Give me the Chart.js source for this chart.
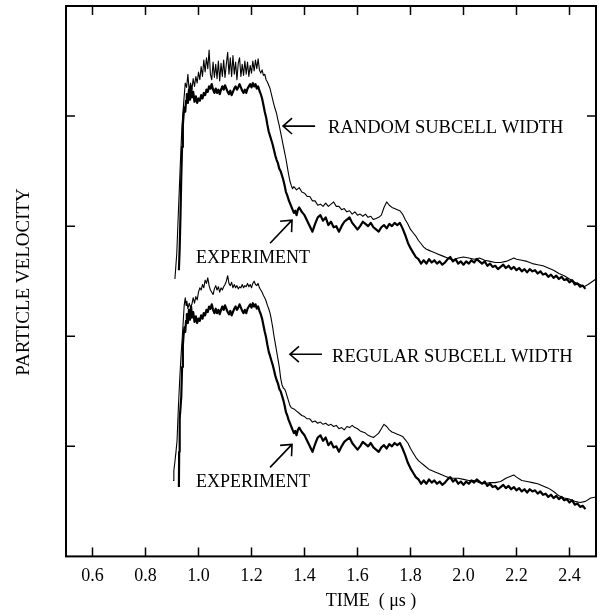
<!DOCTYPE html>
<html>
<head>
<meta charset="utf-8">
<script src="https://cdn.jsdelivr.net/npm/chart.js@4.4.1/dist/chart.umd.min.js"></script>
<style>
  html, body { margin: 0; padding: 0; background: #fff; }
  canvas { display: block; }
</style>
</head>
<body>
<canvas id="chart" width="600" height="616"></canvas>
<script>
// Axis ticks (labels only on the time axis)
const timeTicks = [0.6, 0.8, 1.0, 1.2, 1.4, 1.6, 1.8, 2.0, 2.2, 2.4];
const velocityTicks = [1, 2, 3, 4];

// [time (us), particle velocity (arbitrary, offset per panel)]
const experimentTop = [
  [0.926, 2.60], [0.929, 2.80], [0.932, 3.10], [0.935, 3.45], [0.938, 3.72], [0.941, 3.92],
  [0.944, 4.02], [0.947, 4.08], [0.950, 4.04], [0.953, 4.14], [0.956, 4.20], [0.960, 4.12],
  [0.964, 4.24], [0.968, 4.15], [0.972, 4.27], [0.976, 4.17], [0.980, 4.22], [0.985, 4.13],
  [0.990, 4.18], [0.995, 4.12], [1.000, 4.16], [1.005, 4.14], [1.010, 4.19], [1.015, 4.16],
  [1.020, 4.21], [1.025, 4.19], [1.030, 4.24], [1.035, 4.22], [1.040, 4.27], [1.045, 4.25],
  [1.050, 4.29], [1.055, 4.24], [1.060, 4.21], [1.065, 4.25], [1.070, 4.21], [1.075, 4.24],
  [1.080, 4.20], [1.085, 4.24], [1.090, 4.27], [1.095, 4.24], [1.100, 4.28], [1.105, 4.25],
  [1.110, 4.22], [1.115, 4.20], [1.120, 4.23], [1.125, 4.19], [1.130, 4.22], [1.135, 4.25],
  [1.140, 4.27], [1.145, 4.24], [1.150, 4.26], [1.155, 4.29], [1.160, 4.26], [1.165, 4.23],
  [1.170, 4.21], [1.175, 4.24], [1.180, 4.21], [1.185, 4.25], [1.190, 4.27], [1.195, 4.29],
  [1.200, 4.26], [1.205, 4.30], [1.210, 4.27], [1.215, 4.29], [1.220, 4.25], [1.225, 4.27],
  [1.230, 4.23], [1.235, 4.20], [1.240, 4.16], [1.245, 4.10], [1.250, 4.04], [1.255, 3.99],
  [1.260, 3.92], [1.265, 3.86], [1.270, 3.82], [1.275, 3.78], [1.280, 3.74], [1.285, 3.69],
  [1.290, 3.64], [1.295, 3.60], [1.300, 3.57], [1.305, 3.52], [1.310, 3.50], [1.315, 3.46],
  [1.320, 3.42], [1.325, 3.37], [1.330, 3.31], [1.335, 3.28], [1.340, 3.24], [1.345, 3.21],
  [1.350, 3.18], [1.355, 3.15], [1.360, 3.12], [1.365, 3.14], [1.370, 3.10], [1.375, 3.15],
  [1.380, 3.17], [1.390, 3.13], [1.400, 3.10], [1.410, 3.05], [1.420, 3.00], [1.430, 2.95],
  [1.440, 3.02], [1.450, 3.08], [1.460, 3.10], [1.470, 3.05], [1.480, 3.08], [1.490, 3.01],
  [1.500, 3.04], [1.510, 2.99], [1.520, 3.00], [1.530, 2.95], [1.540, 3.00], [1.550, 3.04],
  [1.560, 3.06], [1.570, 3.08], [1.580, 3.03], [1.590, 3.00], [1.600, 2.97], [1.610, 3.00],
  [1.620, 3.04], [1.630, 3.02], [1.640, 3.00], [1.650, 3.03], [1.660, 2.99], [1.670, 2.97],
  [1.680, 2.95], [1.690, 2.99], [1.700, 3.01], [1.710, 2.98], [1.720, 3.02], [1.730, 3.00],
  [1.740, 3.03], [1.750, 3.01], [1.760, 3.03], [1.770, 2.98], [1.780, 2.92], [1.790, 2.85],
  [1.800, 2.80], [1.810, 2.76], [1.820, 2.72], [1.830, 2.70], [1.840, 2.66], [1.850, 2.69],
  [1.860, 2.66], [1.870, 2.70], [1.880, 2.67], [1.890, 2.69], [1.900, 2.66], [1.910, 2.68],
  [1.920, 2.65], [1.930, 2.67], [1.940, 2.70], [1.950, 2.72], [1.960, 2.68], [1.970, 2.70],
  [1.980, 2.66], [1.990, 2.68], [2.000, 2.65], [2.010, 2.68], [2.020, 2.66], [2.030, 2.69],
  [2.040, 2.67], [2.050, 2.70], [2.060, 2.68], [2.070, 2.66], [2.080, 2.68], [2.090, 2.64],
  [2.100, 2.66], [2.110, 2.63], [2.120, 2.64], [2.130, 2.61], [2.140, 2.63], [2.150, 2.65],
  [2.160, 2.62], [2.170, 2.64], [2.180, 2.61], [2.190, 2.63], [2.200, 2.60], [2.210, 2.62],
  [2.220, 2.59], [2.230, 2.61], [2.240, 2.58], [2.250, 2.61], [2.260, 2.59], [2.270, 2.60],
  [2.280, 2.57], [2.290, 2.59], [2.300, 2.56], [2.310, 2.57], [2.320, 2.54], [2.330, 2.56],
  [2.340, 2.53], [2.350, 2.55], [2.360, 2.52], [2.370, 2.54], [2.380, 2.51], [2.390, 2.52],
  [2.400, 2.49], [2.410, 2.51], [2.420, 2.47], [2.430, 2.48], [2.440, 2.45], [2.450, 2.46],
  [2.460, 2.43]
];

const randomSubcell = [
  [0.911, 2.52], [0.914, 2.62], [0.918, 2.75], [0.922, 3.00], [0.927, 3.30], [0.932, 3.60],
  [0.937, 3.88], [0.941, 4.02], [0.945, 4.15], [0.950, 4.30], [0.955, 4.26], [0.960, 4.38],
  [0.965, 4.22], [0.970, 4.30], [0.975, 4.24], [0.980, 4.34], [0.985, 4.27], [0.990, 4.36],
  [0.995, 4.30], [1.000, 4.40], [1.005, 4.33], [1.010, 4.45], [1.015, 4.36], [1.020, 4.51],
  [1.025, 4.40], [1.030, 4.53], [1.035, 4.43], [1.040, 4.60], [1.045, 4.38], [1.050, 4.33],
  [1.055, 4.49], [1.060, 4.35], [1.065, 4.47], [1.070, 4.34], [1.075, 4.50], [1.080, 4.32],
  [1.085, 4.48], [1.090, 4.36], [1.095, 4.51], [1.100, 4.35], [1.105, 4.47], [1.110, 4.58],
  [1.115, 4.38], [1.120, 4.53], [1.125, 4.36], [1.130, 4.55], [1.135, 4.38], [1.140, 4.49],
  [1.145, 4.33], [1.150, 4.48], [1.155, 4.53], [1.160, 4.36], [1.165, 4.47], [1.170, 4.37],
  [1.175, 4.50], [1.180, 4.38], [1.185, 4.49], [1.190, 4.36], [1.195, 4.46], [1.200, 4.39],
  [1.205, 4.50], [1.210, 4.41], [1.215, 4.51], [1.220, 4.43], [1.225, 4.52], [1.230, 4.42],
  [1.235, 4.39], [1.240, 4.42], [1.245, 4.37], [1.250, 4.38], [1.255, 4.33], [1.260, 4.31],
  [1.265, 4.28], [1.270, 4.25], [1.275, 4.20], [1.280, 4.15], [1.285, 4.10], [1.290, 4.06],
  [1.295, 4.02], [1.300, 3.96], [1.305, 3.91], [1.310, 3.85], [1.315, 3.79], [1.320, 3.73],
  [1.325, 3.67], [1.330, 3.61], [1.335, 3.54], [1.340, 3.47], [1.345, 3.41], [1.350, 3.37],
  [1.355, 3.34], [1.360, 3.36], [1.370, 3.33], [1.380, 3.35], [1.390, 3.31], [1.400, 3.30],
  [1.410, 3.27], [1.420, 3.27], [1.430, 3.23], [1.440, 3.23], [1.450, 3.19], [1.460, 3.20],
  [1.470, 3.18], [1.480, 3.21], [1.490, 3.18], [1.500, 3.20], [1.510, 3.22], [1.520, 3.18],
  [1.530, 3.18], [1.540, 3.15], [1.550, 3.16], [1.560, 3.13], [1.570, 3.14], [1.580, 3.11],
  [1.590, 3.13], [1.600, 3.10], [1.610, 3.11], [1.620, 3.09], [1.630, 3.11], [1.640, 3.08],
  [1.650, 3.09], [1.660, 3.06], [1.670, 3.07], [1.680, 3.08], [1.690, 3.10], [1.700, 3.17],
  [1.710, 3.22], [1.720, 3.19], [1.730, 3.17], [1.740, 3.16], [1.750, 3.15], [1.760, 3.14],
  [1.770, 3.11], [1.780, 3.06], [1.790, 3.02], [1.800, 2.97], [1.810, 2.94], [1.820, 2.91],
  [1.830, 2.87], [1.840, 2.84], [1.850, 2.81], [1.860, 2.79], [1.870, 2.78], [1.880, 2.77],
  [1.890, 2.76], [1.900, 2.75], [1.920, 2.73], [1.940, 2.71], [1.960, 2.69], [1.980, 2.71],
  [2.000, 2.72], [2.020, 2.71], [2.040, 2.70], [2.060, 2.71], [2.080, 2.69], [2.100, 2.68],
  [2.120, 2.67], [2.140, 2.67], [2.160, 2.68], [2.180, 2.70], [2.190, 2.71], [2.200, 2.70],
  [2.220, 2.69], [2.240, 2.68], [2.260, 2.66], [2.280, 2.65], [2.300, 2.64], [2.320, 2.62],
  [2.340, 2.60], [2.360, 2.57], [2.380, 2.55], [2.400, 2.52], [2.420, 2.49], [2.440, 2.47],
  [2.455, 2.45], [2.470, 2.47], [2.500, 2.52]
];

const experimentBottom = [
  [0.926, 0.63], [0.927, 0.95], [0.929, 1.25], [0.932, 1.35], [0.935, 1.45], [0.938, 1.72],
  [0.941, 1.92], [0.944, 2.02], [0.947, 2.08], [0.950, 2.04], [0.953, 2.14], [0.956, 2.20],
  [0.960, 2.12], [0.964, 2.24], [0.968, 2.15], [0.972, 2.27], [0.976, 2.17], [0.980, 2.22],
  [0.985, 2.13], [0.990, 2.18], [0.995, 2.12], [1.000, 2.16], [1.005, 2.14], [1.010, 2.19],
  [1.015, 2.16], [1.020, 2.21], [1.025, 2.19], [1.030, 2.24], [1.035, 2.22], [1.040, 2.27],
  [1.045, 2.25], [1.050, 2.29], [1.055, 2.24], [1.060, 2.21], [1.065, 2.25], [1.070, 2.21],
  [1.075, 2.24], [1.080, 2.20], [1.085, 2.24], [1.090, 2.27], [1.095, 2.24], [1.100, 2.28],
  [1.105, 2.25], [1.110, 2.22], [1.115, 2.20], [1.120, 2.23], [1.125, 2.19], [1.130, 2.22],
  [1.135, 2.25], [1.140, 2.27], [1.145, 2.24], [1.150, 2.26], [1.155, 2.29], [1.160, 2.26],
  [1.165, 2.23], [1.170, 2.21], [1.175, 2.24], [1.180, 2.21], [1.185, 2.25], [1.190, 2.27],
  [1.195, 2.29], [1.200, 2.26], [1.205, 2.30], [1.210, 2.27], [1.215, 2.29], [1.220, 2.25],
  [1.225, 2.27], [1.230, 2.23], [1.235, 2.20], [1.240, 2.16], [1.245, 2.10], [1.250, 2.04],
  [1.255, 1.99], [1.260, 1.92], [1.265, 1.86], [1.270, 1.82], [1.275, 1.78], [1.280, 1.74],
  [1.285, 1.69], [1.290, 1.64], [1.295, 1.60], [1.300, 1.57], [1.305, 1.52], [1.310, 1.50],
  [1.315, 1.46], [1.320, 1.42], [1.325, 1.37], [1.330, 1.31], [1.335, 1.28], [1.340, 1.24],
  [1.345, 1.21], [1.350, 1.18], [1.355, 1.15], [1.360, 1.12], [1.365, 1.14], [1.370, 1.10],
  [1.375, 1.15], [1.380, 1.17], [1.390, 1.13], [1.400, 1.10], [1.410, 1.05], [1.420, 1.00],
  [1.430, 0.95], [1.440, 1.02], [1.450, 1.08], [1.460, 1.10], [1.470, 1.05], [1.480, 1.08],
  [1.490, 1.01], [1.500, 1.04], [1.510, 0.99], [1.520, 1.00], [1.530, 0.95], [1.540, 1.00],
  [1.550, 1.04], [1.560, 1.06], [1.570, 1.08], [1.580, 1.03], [1.590, 1.00], [1.600, 0.97],
  [1.610, 1.00], [1.620, 1.04], [1.630, 1.02], [1.640, 1.00], [1.650, 1.03], [1.660, 0.99],
  [1.670, 0.97], [1.680, 0.95], [1.690, 0.99], [1.700, 1.01], [1.710, 0.98], [1.720, 1.02],
  [1.730, 1.00], [1.740, 1.03], [1.750, 1.01], [1.760, 1.03], [1.770, 0.98], [1.780, 0.92],
  [1.790, 0.85], [1.800, 0.80], [1.810, 0.76], [1.820, 0.72], [1.830, 0.70], [1.840, 0.66],
  [1.850, 0.69], [1.860, 0.66], [1.870, 0.70], [1.880, 0.67], [1.890, 0.69], [1.900, 0.66],
  [1.910, 0.68], [1.920, 0.65], [1.930, 0.67], [1.940, 0.70], [1.950, 0.72], [1.960, 0.68],
  [1.970, 0.70], [1.980, 0.66], [1.990, 0.68], [2.000, 0.65], [2.010, 0.68], [2.020, 0.66],
  [2.030, 0.69], [2.040, 0.67], [2.050, 0.70], [2.060, 0.68], [2.070, 0.66], [2.080, 0.68],
  [2.090, 0.64], [2.100, 0.66], [2.110, 0.63], [2.120, 0.64], [2.130, 0.61], [2.140, 0.63],
  [2.150, 0.65], [2.160, 0.62], [2.170, 0.64], [2.180, 0.61], [2.190, 0.63], [2.200, 0.60],
  [2.210, 0.62], [2.220, 0.59], [2.230, 0.61], [2.240, 0.58], [2.250, 0.61], [2.260, 0.59],
  [2.270, 0.60], [2.280, 0.57], [2.290, 0.59], [2.300, 0.56], [2.310, 0.57], [2.320, 0.54],
  [2.330, 0.56], [2.340, 0.53], [2.350, 0.55], [2.360, 0.52], [2.370, 0.54], [2.380, 0.51],
  [2.390, 0.52], [2.400, 0.49], [2.410, 0.51], [2.420, 0.47], [2.430, 0.48], [2.440, 0.45],
  [2.450, 0.46], [2.460, 0.43]
];

const regularSubcell = [
  [0.904, 0.69], [0.907, 0.78], [0.911, 0.86], [0.915, 0.95], [0.919, 1.05], [0.924, 1.35],
  [0.929, 1.60], [0.934, 1.82], [0.938, 1.96], [0.942, 2.12], [0.946, 2.28], [0.950, 2.35],
  [0.953, 2.28], [0.956, 2.32], [0.960, 2.25], [0.965, 2.30], [0.970, 2.26], [0.975, 2.29],
  [0.980, 2.35], [0.985, 2.30], [0.990, 2.36], [0.995, 2.33], [1.000, 2.40], [1.005, 2.44],
  [1.010, 2.42], [1.015, 2.47], [1.020, 2.44], [1.025, 2.51], [1.030, 2.48], [1.035, 2.53],
  [1.040, 2.46], [1.045, 2.42], [1.050, 2.40], [1.055, 2.38], [1.060, 2.43], [1.065, 2.46],
  [1.070, 2.42], [1.075, 2.45], [1.080, 2.40], [1.085, 2.44], [1.090, 2.42], [1.095, 2.45],
  [1.100, 2.47], [1.105, 2.50], [1.110, 2.55], [1.115, 2.48], [1.120, 2.46], [1.125, 2.49],
  [1.130, 2.44], [1.135, 2.47], [1.140, 2.44], [1.145, 2.46], [1.150, 2.43], [1.155, 2.45],
  [1.160, 2.44], [1.165, 2.47], [1.170, 2.44], [1.175, 2.46], [1.180, 2.45], [1.185, 2.48],
  [1.190, 2.45], [1.195, 2.47], [1.200, 2.44], [1.205, 2.48], [1.210, 2.50], [1.215, 2.47],
  [1.220, 2.46], [1.225, 2.48], [1.230, 2.44], [1.235, 2.42], [1.240, 2.40], [1.245, 2.37],
  [1.250, 2.35], [1.255, 2.32], [1.260, 2.28], [1.265, 2.25], [1.270, 2.21], [1.275, 2.15],
  [1.280, 2.08], [1.285, 2.00], [1.290, 1.93], [1.295, 1.86], [1.300, 1.79], [1.305, 1.72],
  [1.310, 1.62], [1.315, 1.56], [1.320, 1.53], [1.325, 1.52], [1.330, 1.49], [1.335, 1.45],
  [1.340, 1.41], [1.345, 1.37], [1.350, 1.35], [1.360, 1.34], [1.370, 1.32], [1.380, 1.30],
  [1.390, 1.28], [1.400, 1.27], [1.410, 1.25], [1.420, 1.25], [1.430, 1.22], [1.440, 1.23],
  [1.450, 1.21], [1.460, 1.22], [1.470, 1.20], [1.480, 1.21], [1.490, 1.19], [1.500, 1.20],
  [1.510, 1.18], [1.520, 1.19], [1.530, 1.16], [1.540, 1.17], [1.550, 1.15], [1.560, 1.18],
  [1.570, 1.17], [1.580, 1.19], [1.590, 1.17], [1.600, 1.16], [1.610, 1.14], [1.620, 1.13],
  [1.630, 1.12], [1.640, 1.10], [1.650, 1.09], [1.660, 1.08], [1.670, 1.10], [1.680, 1.12],
  [1.690, 1.16], [1.700, 1.20], [1.710, 1.18], [1.720, 1.15], [1.730, 1.13], [1.740, 1.12],
  [1.750, 1.11], [1.760, 1.10], [1.770, 1.09], [1.780, 1.06], [1.790, 1.03], [1.800, 0.98],
  [1.810, 0.94], [1.820, 0.90], [1.830, 0.87], [1.840, 0.85], [1.850, 0.83], [1.860, 0.81],
  [1.870, 0.79], [1.880, 0.78], [1.890, 0.77], [1.900, 0.76], [1.920, 0.74], [1.940, 0.72],
  [1.960, 0.71], [1.980, 0.71], [2.000, 0.70], [2.020, 0.69], [2.040, 0.69], [2.060, 0.67],
  [2.080, 0.66], [2.100, 0.67], [2.120, 0.67], [2.140, 0.68], [2.160, 0.71], [2.180, 0.73],
  [2.190, 0.74], [2.200, 0.72], [2.220, 0.69], [2.240, 0.68], [2.260, 0.67], [2.280, 0.66],
  [2.300, 0.64], [2.320, 0.62], [2.340, 0.59], [2.360, 0.55], [2.380, 0.53], [2.400, 0.52],
  [2.420, 0.50], [2.440, 0.49], [2.460, 0.50], [2.480, 0.53], [2.500, 0.54]
];

// Curve labels with arrows, placed in data coordinates
const curveLabels = [
  { text: 'RANDOM SUBCELL WIDTH', at: [1.489, 3.845], tail: [1.440, 3.909], tip: [1.319, 3.909] },
  { text: 'REGULAR SUBCELL WIDTH', at: [1.504, 1.764], tail: [1.466, 1.836], tip: [1.345, 1.836] },
  { text: 'EXPERIMENT', at: [0.991, 2.664], tail: [1.270, 2.845], tip: [1.353, 3.055] },
  { text: 'EXPERIMENT', at: [0.991, 0.627], tail: [1.270, 0.809], tip: [1.353, 1.018] },
];

const SERIF = "'Liberation Serif', 'Times New Roman', serif";

const toPoints = (pairs) => pairs.map(([x, y]) => ({ x, y }));

// Frame, inward ticks, arrows and titles, drawn like the printed figure
const paperMarks = {
  id: 'paperMarks',
  afterDraw(chart) {
    const { ctx, chartArea: a } = chart;
    const xs = chart.scales.x;
    const ys = chart.scales.y;
    ctx.save();
    ctx.strokeStyle = '#000';
    ctx.fillStyle = '#000';

    ctx.lineWidth = 2;
    ctx.strokeRect(a.left, a.top, a.right - a.left, a.bottom - a.top);

    ctx.lineWidth = 1.5;
    ctx.beginPath();
    timeTicks.forEach((t) => {
      const px = xs.getPixelForValue(t);
      ctx.moveTo(px, a.bottom);
      ctx.lineTo(px, a.bottom - 9);
      ctx.moveTo(px, a.top);
      ctx.lineTo(px, a.top + 9);
    });
    velocityTicks.forEach((v) => {
      const py = ys.getPixelForValue(v);
      ctx.moveTo(a.left, py);
      ctx.lineTo(a.left + 9, py);
      ctx.moveTo(a.right, py);
      ctx.lineTo(a.right - 9, py);
    });
    ctx.stroke();

    // labels and arrows
    ctx.textAlign = 'left';
    ctx.textBaseline = 'alphabetic';
    curveLabels.forEach((lab) => {
      ctx.font = (lab.text === 'EXPERIMENT' ? '18px ' : '18.5px ') + SERIF;
      ctx.fillText(lab.text, xs.getPixelForValue(lab.at[0]), ys.getPixelForValue(lab.at[1]));
      const x0 = xs.getPixelForValue(lab.tail[0]);
      const y0 = ys.getPixelForValue(lab.tail[1]);
      const x1 = xs.getPixelForValue(lab.tip[0]);
      const y1 = ys.getPixelForValue(lab.tip[1]);
      const ang = Math.atan2(y1 - y0, x1 - x0);
      const head = 12;
      const spread = 0.72;
      ctx.lineWidth = 1.6;
      ctx.beginPath();
      ctx.moveTo(x0, y0);
      ctx.lineTo(x1, y1);
      ctx.moveTo(x1 - head * Math.cos(ang - spread), y1 - head * Math.sin(ang - spread));
      ctx.lineTo(x1, y1);
      ctx.lineTo(x1 - head * Math.cos(ang + spread), y1 - head * Math.sin(ang + spread));
      ctx.stroke();
    });

    // axis titles
    ctx.font = '18px ' + SERIF;
    ctx.textAlign = 'center';
    ctx.textBaseline = 'middle';
    ctx.fillText('TIME  ( \u03bcs )', 371, 601);

    ctx.font = '19px ' + SERIF;
    ctx.save();
    ctx.translate(24, 282);
    ctx.rotate(-Math.PI / 2);
    ctx.fillText('PARTICLE VELOCITY', 0, 0);
    ctx.restore();

    ctx.restore();
  },
};

new Chart(document.getElementById('chart'), {
  type: 'line',
  data: {
    datasets: [
      { data: toPoints(experimentTop), borderColor: '#000', borderWidth: 2.2 },
      { data: toPoints(experimentBottom), borderColor: '#000', borderWidth: 2.2 },
      { data: toPoints(randomSubcell), borderColor: '#000', borderWidth: 1.1 },
      { data: toPoints(regularSubcell), borderColor: '#000', borderWidth: 1.1 },
    ],
  },
  options: {
    responsive: false,
    animation: false,
    layout: { padding: { left: 66, right: 4, top: 6, bottom: 20 } },
    elements: {
      point: { radius: 0 },
      line: { tension: 0, borderJoinStyle: 'round' },
    },
    plugins: {
      legend: { display: false },
      tooltip: { enabled: false },
    },
    scales: {
      x: {
        type: 'linear',
        min: 0.5,
        max: 2.5,
        grid: { display: false, drawTicks: false },
        border: { display: false },
        afterBuildTicks: (axis) => {
          axis.ticks = timeTicks.map((value) => ({ value }));
        },
        ticks: {
          padding: 9,
          color: '#000',
          autoSkip: false,
          maxRotation: 0,
          font: { family: SERIF, size: 18 },
          callback: (value) => Number(value).toFixed(1),
        },
      },
      y: {
        type: 'linear',
        min: 0,
        max: 5,
        display: false,
      },
    },
  },
  plugins: [paperMarks],
});
</script>
</body>
</html>
